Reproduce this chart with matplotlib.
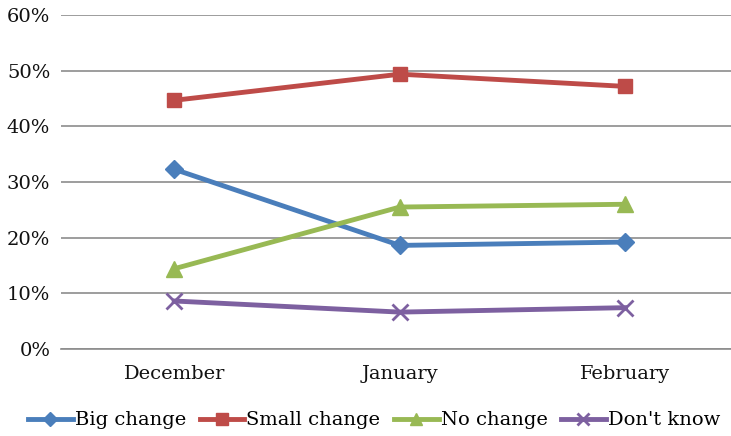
import matplotlib.pyplot as plt
from matplotlib.ticker import PercentFormatter

months = ["December", "January", "February"]
big_change = [32.3, 18.6, 19.2]
small_change = [44.7, 49.4, 47.2]
no_change = [14.4, 25.5, 26.0]
dont_know = [8.6, 6.6, 7.4]

plt.rcParams['font.family'] = ['DejaVu Serif']

fig = plt.figure(figsize=(7.31, 4.36), dpi=100)
ax = fig.add_axes([0.084, 0.2, 0.926, 0.765])

x = range(len(months))
ax.plot(x, big_change, color="#4A7EBB", lw=3.5, marker="D", ms=9, label="Big change")
ax.plot(x, small_change, color="#BE4B48", lw=3.5, marker="s", ms=10, label="Small change")
ax.plot(x, no_change, color="#98B954", lw=3.5, marker="^", ms=11, label="No change")
ax.plot(x, dont_know, color="#7D60A0", lw=3.5, marker="x", ms=11, mew=2, label="Don't know")

ax.set_xlim(-0.5, 2.5)
ax.set_ylim(0, 60)
ax.set_yticks(range(0, 61, 10))
ax.yaxis.set_major_formatter(PercentFormatter(decimals=0))
ax.set_xticks(list(x))
ax.set_xticklabels(months)
ax.grid(axis="y", color="#8c8c8c", lw=1.2)
ax.set_axisbelow(True)
for s in ["top", "right", "left"]:
    ax.spines[s].set_visible(False)
ax.spines["bottom"].set_color("#8c8c8c")
ax.spines["bottom"].set_linewidth(1.2)
ax.tick_params(axis="both", length=0, labelsize=14, colors="#111111")
ax.tick_params(axis="x", pad=12)
ax.tick_params(axis="y", pad=8)

ax.legend(loc="upper center", bbox_to_anchor=(0.462, -0.135), ncol=4, frameon=False,
          fontsize=14, handlelength=2.3, handletextpad=0.1, columnspacing=0.7, markerscale=0.8)

fig.savefig("out.png")
